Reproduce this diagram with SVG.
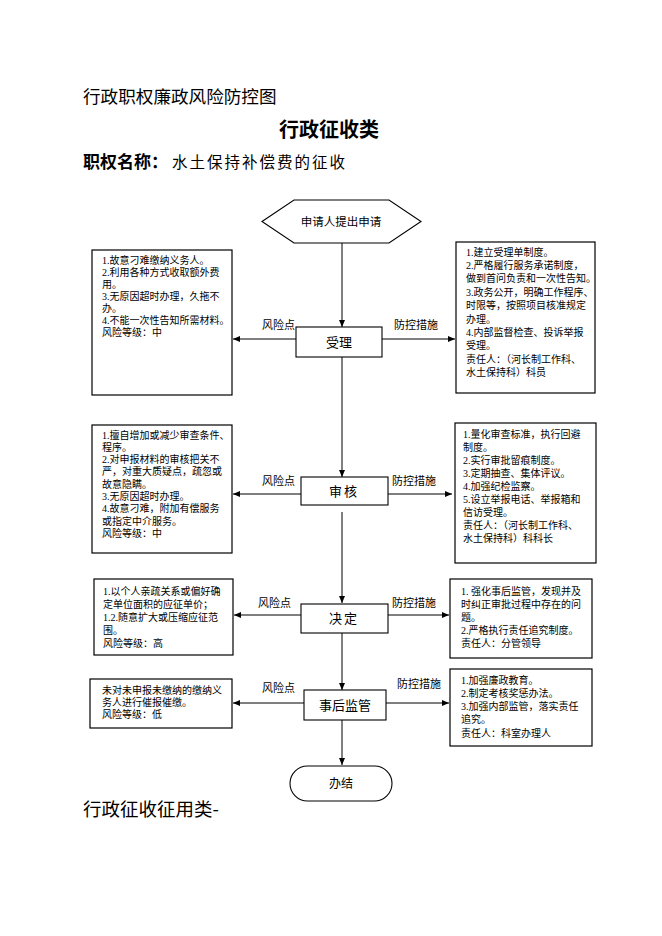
<svg xmlns="http://www.w3.org/2000/svg" width="662" height="936" viewBox="0 0 662 936">
<style>
.t{font-family:"Liberation Serif","Noto Sans CJK SC",serif;font-size:10px;fill:#000}
.h{font-family:"Noto Sans CJK SC",sans-serif;fill:#000}
.box{fill:#fff;stroke:#000;stroke-width:1.2}
.node{fill:#fff;stroke:#000;stroke-width:1.1}
.lbl{font-family:"Noto Sans CJK SC",sans-serif;font-size:11px;fill:#000}
.nl{font-family:"Noto Sans CJK SC",sans-serif;font-size:13px;fill:#000;text-anchor:middle}
.c{stroke:#000;stroke-width:1;fill:none}
</style>
<defs>
<marker id="ah" markerUnits="userSpaceOnUse" markerWidth="8" markerHeight="8" refX="7" refY="3" orient="auto">
<path d="M0,0 L7,3 L0,6 Z" fill="#000"/>
</marker>
</defs>
<rect width="662" height="936" fill="#fff"/>

<text class="h" x="83" y="103" font-size="17.6">行政职权廉政风险防控图</text>
<text class="h" x="329" y="137" font-size="20" font-weight="bold" text-anchor="middle">行政征收类</text>
<text class="h" x="83" y="168" font-size="17" font-weight="bold">职权名称：</text>
<text class="h" x="172" y="168" font-size="15.5" letter-spacing="2">水土保持补偿费的征收</text>
<text class="h" x="83" y="816" font-size="18.5">行政征收征用类-</text>

<g id="connectors">
<line class="c" x1="342" y1="243" x2="342" y2="327" marker-end="url(#ah)"/>
<line class="c" x1="342" y1="357" x2="342" y2="477" marker-end="url(#ah)"/>
<line class="c" x1="342" y1="512" x2="342" y2="603" marker-end="url(#ah)"/>
<line class="c" x1="342" y1="633" x2="342" y2="690" marker-end="url(#ah)"/>
<line class="c" x1="342" y1="720" x2="342" y2="765" marker-end="url(#ah)"/>
<line class="c" x1="296" y1="339" x2="233" y2="339" marker-end="url(#ah)"/>
<line class="c" x1="382" y1="339" x2="455" y2="339" marker-end="url(#ah)"/>
<line class="c" x1="301" y1="494" x2="233" y2="494" marker-end="url(#ah)"/>
<line class="c" x1="388" y1="494" x2="452" y2="494" marker-end="url(#ah)"/>
<line class="c" x1="301" y1="615" x2="234" y2="615" marker-end="url(#ah)"/>
<line class="c" x1="388" y1="615" x2="449" y2="615" marker-end="url(#ah)"/>
<line class="c" x1="304" y1="703" x2="233" y2="703" marker-end="url(#ah)"/>
<line class="c" x1="386" y1="703" x2="449" y2="703" marker-end="url(#ah)"/>
<text class="lbl" x="262" y="329">风险点</text>
<text class="lbl" x="394" y="329">防控措施</text>
<text class="lbl" x="262" y="485">风险点</text>
<text class="lbl" x="392" y="485">防控措施</text>
<text class="lbl" x="258" y="607">风险点</text>
<text class="lbl" x="392" y="607">防控措施</text>
<text class="lbl" x="262" y="692">风险点</text>
<text class="lbl" x="397" y="688">防控措施</text>
</g>

<g id="start">
<polygon class="node" points="262,221.5 294,200 389,200 421,221.5 389,243 294,243"/>
<text class="h" x="341" y="226" font-size="11.5" text-anchor="middle">申请人提出申请</text>
</g>

<g id="accept">
<rect class="node" x="296" y="327" width="86" height="30"/>
<text class="nl" x="339" y="347">受理</text>
</g>
<g id="review">
<rect class="node" x="301" y="477" width="87" height="28"/>
<text class="nl" x="344" y="496" letter-spacing="2">审核</text>
</g>
<g id="decide">
<rect class="node" x="301" y="604" width="87" height="29"/>
<text class="nl" x="344" y="623" letter-spacing="2">决定</text>
</g>
<g id="supervise">
<rect class="node" x="304" y="690" width="82" height="30"/>
<text class="nl" x="345" y="710">事后监管</text>
</g>
<g id="end">
<rect class="node" x="290" y="766" width="102" height="35" rx="17.5"/>
<text class="h" x="341" y="788" font-size="12" text-anchor="middle">办结</text>
</g>

<g id="risk1">
<rect class="box" x="92" y="250" width="140" height="145"/>
<text class="t" x="102" y="263.5">1.故意刁难缴纳义务人。</text>
<text class="t" x="102" y="275.6">2.利用各种方式收取额外费</text>
<text class="t" x="102" y="287.7">用。</text>
<text class="t" x="102" y="299.8">3.无原因超时办理，久拖不</text>
<text class="t" x="102" y="311.9">办。</text>
<text class="t" x="102" y="324">4.不能一次性告知所需材料。</text>
<text class="t" x="102" y="336.1">风险等级：中</text>
</g>
<g id="measure1">
<rect class="box" x="456" y="242" width="139" height="151"/>
<text class="t" x="466" y="255.5">1.建立受理单制度。</text>
<text class="t" x="466" y="268.9">2.严格履行服务承诺制度，</text>
<text class="t" x="466" y="282.3">做到首问负责和一次性告知。</text>
<text class="t" x="466" y="295.7">3.政务公开，明确工作程序、</text>
<text class="t" x="466" y="309.1">时限等，按照项目核准规定</text>
<text class="t" x="466" y="322.5">办理。</text>
<text class="t" x="466" y="335.9">4.内部监督检查、投诉举报</text>
<text class="t" x="466" y="349.3">受理。</text>
<text class="t" x="466" y="362.7">责任人：（河长制工作科、</text>
<text class="t" x="466" y="376.1">水土保持科）科员</text>
</g>
<g id="risk2">
<rect class="box" x="92" y="425" width="140" height="128"/>
<text class="t" x="102" y="438.5">1.擅自增加或减少审查条件、</text>
<text class="t" x="102" y="450.8">程序。</text>
<text class="t" x="102" y="463.1">2.对申报材料的审核把关不</text>
<text class="t" x="102" y="475.4">严，对重大质疑点，疏忽或</text>
<text class="t" x="102" y="487.7">故意隐瞒。</text>
<text class="t" x="102" y="500">3.无原因超时办理。</text>
<text class="t" x="102" y="512.3">4.故意刁难，附加有偿服务</text>
<text class="t" x="102" y="524.6">或指定中介服务。</text>
<text class="t" x="102" y="536.9">风险等级：中</text>
</g>
<g id="measure2">
<rect class="box" x="455" y="423" width="141" height="140"/>
<text class="t" x="463" y="437.5">1.量化审查标准，执行回避</text>
<text class="t" x="463" y="450.6">制度。</text>
<text class="t" x="463" y="463.7">2.实行审批留痕制度。</text>
<text class="t" x="463" y="476.8">3.定期抽查、集体评议。</text>
<text class="t" x="463" y="489.9">4.加强纪检监察。</text>
<text class="t" x="463" y="503">5.设立举报电话、举报箱和</text>
<text class="t" x="463" y="516.1">信访受理。</text>
<text class="t" x="463" y="529.2">责任人：（河长制工作科、</text>
<text class="t" x="463" y="542.3">水土保持科）科科长</text>
</g>
<g id="risk3">
<rect class="box" x="94" y="579" width="139" height="76"/>
<text class="t" x="103" y="594.5">1.以个人亲疏关系或偏好确</text>
<text class="t" x="103" y="607.6">定单位面积的应征单价；</text>
<text class="t" x="103" y="620.7">1.2.随意扩大或压缩应征范</text>
<text class="t" x="103" y="633.8">围。</text>
<text class="t" x="103" y="646.9">风险等级：高</text>
</g>
<g id="measure3">
<rect class="box" x="450" y="579" width="142" height="79"/>
<text class="t" x="461" y="594.5">1. 强化事后监管，发现并及</text>
<text class="t" x="461" y="607.6">时纠正审批过程中存在的问</text>
<text class="t" x="461" y="620.7">题。</text>
<text class="t" x="461" y="633.8">2.严格执行责任追究制度。</text>
<text class="t" x="461" y="646.9">责任人：分管领导</text>
</g>
<g id="risk4">
<rect class="box" x="90" y="679" width="142" height="49"/>
<text class="t" x="102" y="693.5">未对未申报未缴纳的缴纳义</text>
<text class="t" x="102" y="705.7">务人进行催报催缴。</text>
<text class="t" x="102" y="717.9">风险等级：低</text>
</g>
<g id="measure4">
<rect class="box" x="450" y="669" width="142" height="77"/>
<text class="t" x="461" y="683.5">1.加强廉政教育。</text>
<text class="t" x="461" y="696.8">2.制定考核奖惩办法。</text>
<text class="t" x="461" y="710.1">3.加强内部监管，落实责任</text>
<text class="t" x="461" y="723.4">追究。</text>
<text class="t" x="461" y="736.7">责任人：科室办理人</text>
</g>
</svg>
